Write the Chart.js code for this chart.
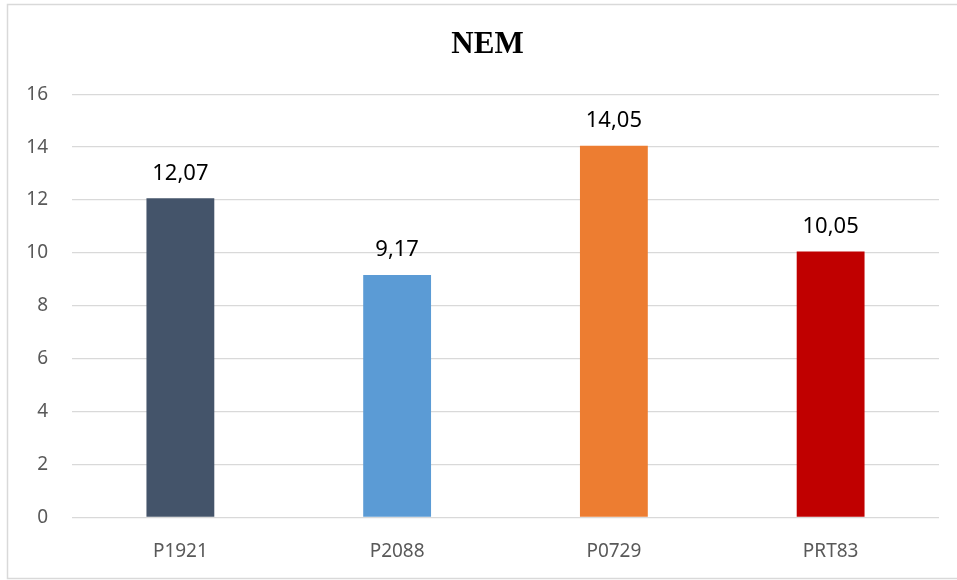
<!DOCTYPE html>
<html>
<head>
<meta charset="utf-8">
<script src="https://cdn.jsdelivr.net/npm/chart.js@4"></script>
<style>
  html, body { margin: 0; padding: 0; background: #fff; }
  #wrap { width: 957px; height: 580px; position: relative; }
</style>
</head>
<body>
<div id="wrap"><canvas id="nem-chart" width="957" height="580"></canvas></div>
<script>
// chart data
const categories = ['P1921', 'P2088', 'P0729', 'PRT83'];
const nemValues = [12.07, 9.17, 14.05, 10.05];
const barColors = ['#44546A', '#5B9BD5', '#ED7D31', '#C00000'];
const yTicks = [0, 2, 4, 6, 8, 10, 12, 14, 16];

// light frame around the whole chart, like the office export
const framePlugin = {
    id: 'frame',
    beforeDraw: (chart) => {
        const c = chart.ctx;
        c.save();
        c.fillStyle = '#fff';
        c.fillRect(0, 0, chart.width, chart.height);
        c.strokeStyle = '#d9d9d9';
        c.lineWidth = 1.5;
        c.strokeRect(7.5, 4.5, chart.width + 10, chart.height - 6);
        c.restore();
    }
};

// value labels above each bar, decimal comma
const valueLabels = {
    id: 'valueLabels',
    afterDatasetsDraw: (chart) => {
        const c = chart.ctx;
        const meta = chart.getDatasetMeta(0);
        c.save();
        c.font = '22px "Noto Sans"';
        c.fillStyle = '#000';
        c.textAlign = 'center';
        c.textBaseline = 'alphabetic';
        meta.data.forEach((bar, i) => {
            const txt = nemValues[i].toFixed(2).replace('.', ',');
            c.fillText(txt, bar.x, bar.y - 18.5);
        });
        c.restore();
    }
};

const ctx = document.getElementById('nem-chart').getContext('2d');
new Chart(ctx, {
    type: 'bar',
    data: {
        labels: categories,
        datasets: [{
            label: 'NEM',
            data: nemValues,
            backgroundColor: barColors,
            borderWidth: 0,
            barPercentage: 0.313,
            categoryPercentage: 1
        }]
    },
    options: {
        responsive: false,
        animation: false,
        // title is centred on the frame, which runs past the right edge
        layout: { padding: { left: 18, right: 0, top: 0, bottom: 0 } },
        plugins: {
            legend: { display: false },
            tooltip: { enabled: false },
            title: {
                display: true,
                text: 'NEM',
                color: '#000',
                font: { family: '"Liberation Serif"', size: 31, weight: 'bold', lineHeight: 1.2 },
                padding: { top: 26, bottom: 31 }
            }
        },
        scales: {
            x: {
                grid: { display: false },
                border: { display: false },
                ticks: {
                    color: '#595959',
                    font: { family: '"Noto Sans"', size: 19 },
                    padding: 15
                },
                afterFit: (scale) => { scale.height = 62.5; }
            },
            y: {
                min: 0,
                max: 16,
                afterBuildTicks: (scale) => { scale.ticks = yTicks.map(v => ({ value: v })); },
                grid: { color: '#d9d9d9', lineWidth: 1.3, drawTicks: false },
                border: { display: false },
                ticks: {
                    color: '#595959',
                    font: { family: '"Noto Sans"', size: 19 },
                    padding: 24
                },
                afterFit: (scale) => { scale.width = 54; }
            },
            // empty right axis, only keeps the plot short of the edge
            yRight: {
                position: 'right',
                min: 0,
                max: 16,
                grid: { display: false },
                border: { display: false },
                ticks: { display: false },
                afterFit: (scale) => { scale.width = 18; }
            }
        }
    },
    plugins: [framePlugin, valueLabels]
});
</script>
</body>
</html>
